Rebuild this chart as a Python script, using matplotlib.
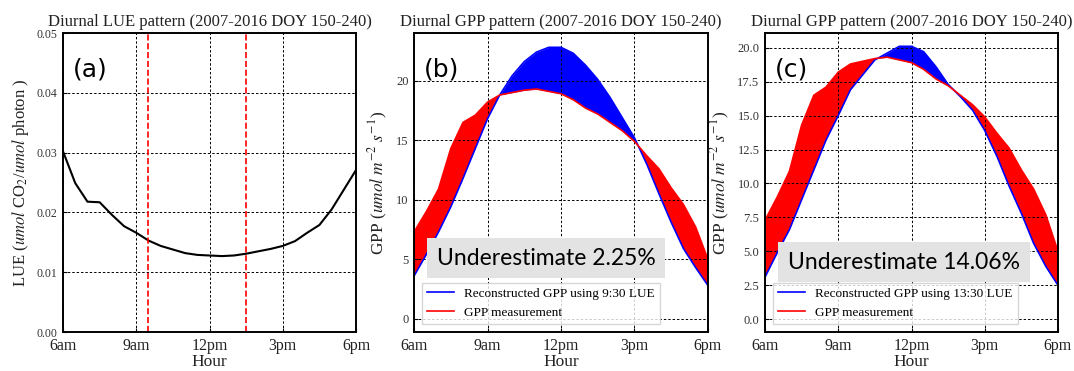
import numpy as np
import matplotlib.pyplot as plt

# half-hourly from 6:00 to 18:00
hours = np.arange(6, 18.01, 0.5)

lue = [0.0302, 0.0249, 0.0218, 0.0217, 0.0196, 0.0177, 0.0166, 0.0153, 0.0144,
       0.0138, 0.0132, 0.0129, 0.0128, 0.0127, 0.0128, 0.0131, 0.0135, 0.0139,
       0.0144, 0.0152, 0.0166, 0.0179, 0.0205, 0.0238, 0.0271]

gpp_meas = [7.3, 9.0, 10.9, 14.3, 16.5, 17.1, 18.2, 18.8, 19.0, 19.2, 19.3, 19.1,
            18.9, 18.4, 17.7, 17.2, 16.5, 15.8, 14.9, 13.7, 12.6, 11.0, 9.6, 7.7, 5.0]

gpp_930 = [3.6, 5.4, 7.3, 9.4, 11.8, 14.3, 16.8, 18.8, 20.4, 21.6, 22.4, 22.8,
           22.8, 22.3, 21.3, 20.1, 18.6, 16.9, 15.2, 13.0, 10.5, 8.1, 5.9, 4.3, 2.8]

gpp_1330 = [3.1, 4.9, 6.6, 8.8, 11.0, 13.2, 15.0, 16.9, 18.0, 19.1, 19.6, 20.1,
            20.1, 19.7, 18.6, 17.3, 16.4, 15.4, 13.9, 12.0, 9.8, 7.8, 5.6, 3.9, 2.5]

ref_times = [9.5, 13.5]
hour_ticks = [6, 9, 12, 15, 18]
hour_labels = ['6am', '9am', '12pm', '3pm', '6pm']

title_lue = 'Diurnal LUE pattern (2007-2016 DOY 150-240)'
title_gpp = 'Diurnal GPP pattern (2007-2016 DOY 150-240)'

plt.rcParams['font.family'] = 'Liberation Serif'
plt.rcParams['mathtext.fontset'] = 'stix'

fig = plt.figure(figsize=(10.74, 3.71), dpi=100)
ax_a = fig.add_axes([0.0587, 0.105, 0.2728, 0.806])
ax_b = fig.add_axes([0.3855, 0.105, 0.2737, 0.806])
ax_c = fig.add_axes([0.7123, 0.105, 0.2728, 0.806])

grid_kw = dict(color='black', linestyle=(0, (2.5, 2)), linewidth=0.7)


def style_axis(ax, title, label):
    ax.set_xlim(6, 18)
    ax.set_xticks(hour_ticks)
    ax.set_xticklabels(hour_labels, fontsize=11.5, color='#222222')
    ax.set_xlabel('Hour', fontsize=12.5, color='#222222', labelpad=0)
    ax.set_title(title, fontsize=12, color='#222222', pad=5)
    ax.grid(True, **grid_kw)
    ax.tick_params(direction='in', length=3, pad=4)
    for s in ax.spines.values():
        s.set_linewidth(1.4)
    ax.text(0.035, 0.855, label, transform=ax.transAxes, fontsize=18,
            family='DejaVu Sans', color='black')


# (a) LUE
ax_a.plot(hours, lue, color='black', lw=1.5)
for t in ref_times:
    ax_a.axvline(t, color='red', linestyle='--', lw=1.2)
ax_a.set_ylim(0, 0.05)
ax_a.set_yticks(np.arange(0, 0.051, 0.01))
ax_a.tick_params(axis='y', labelsize=8.5, labelcolor='#333333')
ax_a.set_ylabel('LUE ($umol$ CO$_2$/$umol$ photon )', fontsize=12, color='#222222')
style_axis(ax_a, title_lue, '(a)')


def gpp_panel(ax, recon, ref_label, pct, title, label, ylim, yticks, fmt, box_xy):
    x = hours
    rec = np.array(recon)
    mea = np.array(gpp_meas)
    ax.fill_between(x, mea, rec, where=rec >= mea, color='blue', interpolate=True, lw=0)
    ax.fill_between(x, mea, rec, where=rec < mea, color='red', interpolate=True, lw=0)
    ax.plot(x, rec, color='blue', lw=1.2, label='Reconstructed GPP using %s LUE' % ref_label)
    ax.plot(x, mea, color='red', lw=1.2, label='GPP measurement')
    ax.set_ylim(*ylim)
    ax.set_yticks(yticks)
    ax.set_yticklabels([fmt % v for v in yticks])
    ax.tick_params(axis='y', labelsize=9, labelcolor='#333333')
    ax.set_ylabel('GPP ($umol\\ m^{-2}\\ s^{-1}$)', fontsize=12.5, color='#222222')
    style_axis(ax, title, label)
    leg = ax.legend(loc='lower left', fontsize=9.5, frameon=True, fancybox=False,
                    borderaxespad=0.6)
    leg.get_frame().set_edgecolor('#cccccc')
    ax.text(box_xy[0], box_xy[1], 'Underestimate %s' % pct, transform=ax.transAxes,
            ha='center', va='center', fontsize=16.5, family='Lato', color='black',
            zorder=10, bbox=dict(facecolor='#e3e3e3', edgecolor='none', pad=7))


gpp_panel(ax_b, gpp_930, '9:30', '2.25%', title_gpp, '(b)', (-1.1, 24.0),
          [0, 5, 10, 15, 20], '%d', (0.449, 0.247))
gpp_panel(ax_c, gpp_1330, '13:30', '14.06%', title_gpp, '(c)', (-0.94, 21.08),
          [0, 2.5, 5, 7.5, 10, 12.5, 15, 17.5, 20], '%.1f', (0.474, 0.234))

fig.savefig('out.png', dpi=100)
